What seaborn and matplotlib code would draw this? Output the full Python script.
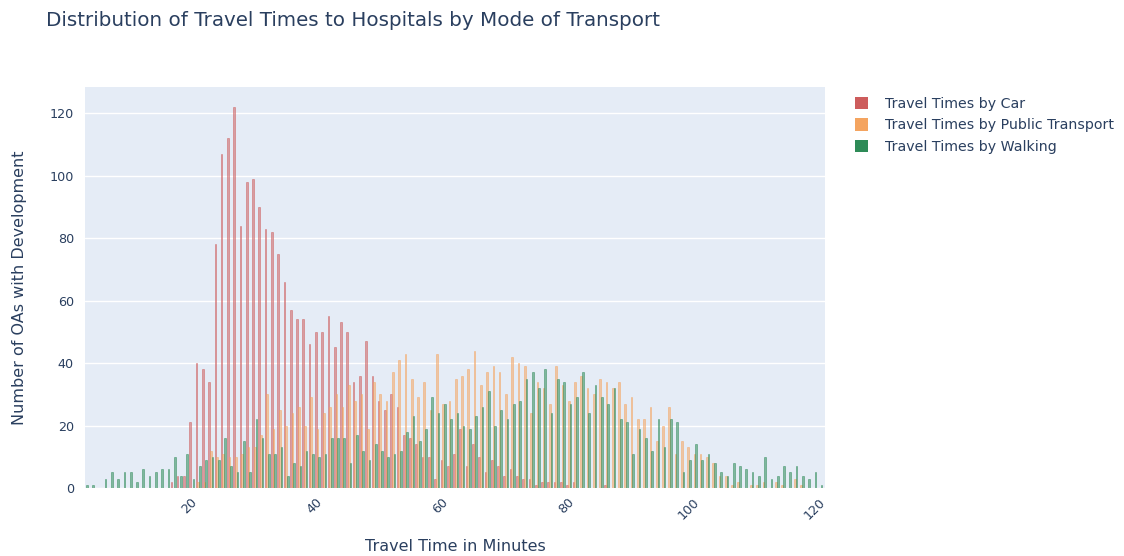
import numpy as np
import pandas as pd
import matplotlib
matplotlib.use('Agg')
import matplotlib.pyplot as plt
import seaborn as sns
from matplotlib.patches import Patch

# Travel time bins (1 minute wide, starting at 2 min) and counts
minutes = list(range(2, 120))

car = [0] * 14 + [
    2, 4, 4, 21, 40, 38, 34, 78, 107, 112, 122, 84, 98, 99, 90, 83, 82, 75, 66, 57,
    54, 54, 46, 50, 50, 55, 45, 53, 50, 34, 36, 47, 36, 28, 25, 30, 26, 17, 16, 14,
    10, 10, 3, 9, 7, 11, 19, 7, 14, 10, 5, 9, 7, 4, 6, 4, 3, 3, 1, 2,
    2, 2, 2, 1, 2, 0, 0, 0, 0, 1] + [0] * 34

public_transport = [0] * 18 + [
    2, 2, 12, 10, 11, 10, 10, 11, 13, 13, 17, 30, 19, 25, 20, 24, 26, 20, 29, 19,
    24, 26, 30, 26, 33, 28, 30, 19, 34, 30, 28, 37, 41, 43, 35, 29, 34, 25, 43, 27,
    28, 35, 36, 38, 44, 33, 37, 39, 37, 30, 42, 40, 39, 24, 34, 32, 27, 39, 33, 28,
    34, 36, 32, 30, 35, 34, 32, 34, 27, 29, 22, 22, 26, 15, 20, 26, 11, 15, 13, 11,
    11, 10, 8, 4, 4, 1, 2, 0, 1, 1, 2, 0, 2, 1, 0, 3, 1, 0, 0, 0]

walking = [
    1, 1, 0, 3, 5, 3, 5, 5, 2, 6, 4, 5, 6, 6, 10, 4, 11, 3, 7, 9,
    10, 9, 16, 7, 5, 15, 5, 22, 16, 11, 11, 13, 4, 8, 7, 12, 11, 10, 11, 16,
    16, 16, 8, 17, 12, 9, 14, 12, 10, 11, 12, 18, 23, 15, 19, 29, 24, 27, 22, 24,
    20, 19, 23, 26, 31, 20, 25, 22, 27, 28, 35, 37, 32, 38, 24, 35, 34, 27, 29, 37,
    24, 33, 29, 27, 32, 22, 21, 11, 19, 16, 12, 22, 13, 22, 21, 5, 9, 14, 9, 11,
    8, 5, 4, 8, 7, 6, 5, 4, 10, 3, 4, 7, 5, 7, 4, 3, 5, 1]

modes = ['Travel Times by Car', 'Travel Times by Public Transport', 'Travel Times by Walking']
colors = ['#CD5C5C', '#F4A460', '#2E8B57']

# long table for seaborn, bars centred in the middle of each bin
df = pd.DataFrame({
    'minute': np.array(minutes * 3) + 0.5,
    'count': car + public_transport + walking,
    'mode': np.repeat(modes, len(minutes)),
})

sns.set_style('darkgrid', {'axes.facecolor': '#E5ECF6', 'grid.color': 'white'})
plt.rcParams['font.family'] = ['DejaVu Sans']
text_col = '#2a3f5f'

fig = plt.figure(figsize=(11.24, 5.56), dpi=100)
ax = fig.add_axes([85 / 1124, 1 - 488 / 556, 740 / 1124, 401 / 556])

sns.barplot(data=df, x='minute', y='count', hue='mode', hue_order=modes,
            palette=colors, native_scale=True, width=0.8, errorbar=None,
            saturation=1, alpha=0.55, legend=False, ax=ax)
# thin outline in the same colour so narrow bars don't vanish
for p in ax.patches:
    p.set_edgecolor(p.get_facecolor())
    p.set_linewidth(0.6)

ax.set_xlim(2.48, 120.3)
ax.set_ylim(0, 128.4)
ax.set_yticks(range(0, 121, 20))
ax.set_xticks(range(20, 121, 20))
ax.grid(axis='x', visible=False)
ax.grid(axis='y', color='white', linewidth=1)
for s in ax.spines.values():
    s.set_visible(False)
ax.tick_params(length=0, colors=text_col, labelsize=9.2)
ax.tick_params(axis='y', pad=8)
for lab in ax.get_xticklabels():
    lab.set_rotation(45)
    lab.set_ha('right')
    lab.set_va('center')
    lab.set_rotation_mode('anchor')
ax.tick_params(axis='x', pad=9)

ax.set_xlabel('Travel Time in Minutes', color=text_col, fontsize=11.5, labelpad=12)
ax.set_ylabel('Number of OAs with Development', color=text_col, fontsize=11.5, labelpad=16)

fig.text(46 / 1124, 1 - 21 / 556, 'Distribution of Travel Times to Hospitals by Mode of Transport',
         color=text_col, fontsize=14.3, va='center', ha='left')

handles = [Patch(facecolor=c, edgecolor='none') for c in colors]
fig.legend(handles, modes, loc='upper left', bbox_to_anchor=(849 / 1124, 1 - 91 / 556),
           frameon=False, fontsize=10.2, labelcolor=text_col, handlelength=0.95,
           handleheight=0.95, handletextpad=1.2, labelspacing=0.55, borderaxespad=0)

fig.savefig('out.png', dpi=100)
